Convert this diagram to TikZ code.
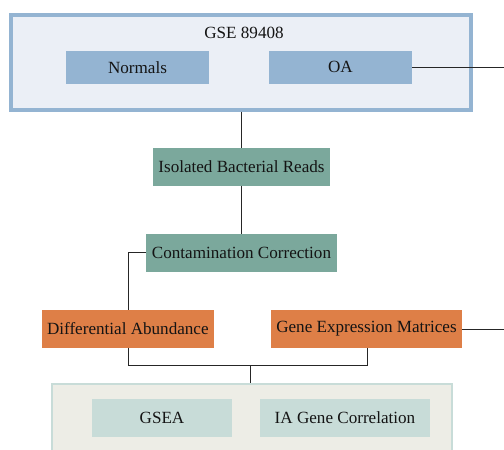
\documentclass[tikz,border=0pt]{standalone}
\usepackage{fontspec}
\setmainfont{Liberation Serif}
\begin{document}
\begin{tikzpicture}[x=1pt,y=-1pt,
  lbl/.style={font=\fontsize{17.1}{19}\selectfont, text=black!92},
  bluebox/.style={fill=blueA, draw=none, inner sep=0pt},
  tealbox/.style={fill=tealA, draw=none, inner sep=0pt},
  orbox/.style={fill=orangeA, draw=none, inner sep=0pt},
  palebox/.style={fill=paleA, draw=none, inner sep=0pt},
  conn/.style={draw=black!85, line width=0.9pt}]
\definecolor{blueA}{HTML}{94B4D2}
\definecolor{blueBg}{HTML}{EBEFF6}
\definecolor{tealA}{HTML}{7BA89C}
\definecolor{orangeA}{HTML}{DE7F47}
\definecolor{paleA}{HTML}{C8DCD8}
\definecolor{greyBg}{HTML}{EDEDE6}
\useasboundingbox (0,0) rectangle (504,450);
% top container
\node[draw=blueA, fill=blueBg, line width=4pt, minimum width=460.3pt, minimum height=94.4pt, inner sep=0pt] (top) at (241.15,62.5) {};
\node[lbl] (gse) at (244,33) {GSE 89408};
\node[bluebox, lbl, minimum width=143pt, minimum height=33pt] (normals) at (137.5,67.3) {Normals};
\node[bluebox, lbl, minimum width=143pt, minimum height=33pt] (oa) at (340.5,67.3) {OA};
\coordinate (oaR) at (504,67.3);
\draw[conn] (oa.east) -- (oaR);
% teal boxes
\node[tealbox, lbl, minimum width=177pt, minimum height=37.7pt] (iso) at (241.5,166.9) {Isolated Bacterial Reads};
\node[tealbox, lbl, minimum width=191pt, minimum height=37.7pt] (cont) at (241.5,252.8) {Contamination Correction};
\draw[conn] (241.7,111.7) -- (iso.north -| 241.7,0);
\draw[conn] (iso.south -| 241.7,0) -- (cont.north -| 241.7,0);
% orange boxes
\node[orbox, lbl, minimum width=171.7pt, minimum height=37.7pt] (diff) at (127.85,328.85) {Differential Abundance};
\node[orbox, lbl, minimum width=191pt, minimum height=37.7pt] (gem) at (366.5,328.85) {Gene Expression Matrices};
\coordinate (gemR) at (504,329.7);
\draw[conn] (gem.east |- gemR) -- (gemR);
\draw[conn] (cont.west) -- (128.3,252.8) -- (diff.north -| 128.3,0);
% bottom container
\node[draw=paleA, fill=greyBg, line width=2pt, minimum width=400pt, minimum height=80pt, inner sep=0pt, anchor=north west] (bot) at (50.7,382.7) {};
\node[palebox, lbl, minimum width=140pt, minimum height=37.7pt] (gsea) at (162,417.85) {GSEA};
\node[palebox, lbl, minimum width=170pt, minimum height=37.7pt] (ia) at (345,417.85) {IA Gene Correlation};
\coordinate (join) at (250,365.7);
\draw[conn] (diff.south -| 128.3,0) -- (128.3,365.7) -- (367,365.7) -- (gem.south -| 367,0);
\draw[conn] (join) -- (bot.north -| join);
\end{tikzpicture}
\end{document}
